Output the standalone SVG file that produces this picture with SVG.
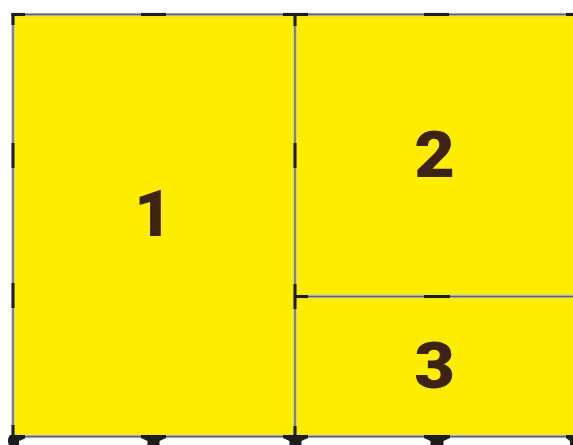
<svg xmlns="http://www.w3.org/2000/svg" width="573" height="445" viewBox="0 0 573 445">
<defs>
<style>
.fill{fill:#FFED00;stroke:none}
.lbl{font-family:Roboto,"Liberation Sans",Arial,sans-serif;font-weight:900;font-size:65px;fill:#3D2314;text-anchor:middle}
.halo{stroke:#C4C4C4;stroke-width:3.4;fill:none}
.line{stroke:#5E5E5E;stroke-width:1.3;fill:none}
.tick{fill:#1D1D1B;stroke:none}
</style>
</defs>
<rect width="573" height="445" fill="#FFFFFF"/>
<g id="panel-1">
<rect class="fill" x="13" y="14.5" width="282" height="422"/>
<text class="lbl" x="153" y="236">1</text>
</g>
<g id="panel-2">
<rect class="fill" x="295" y="14.5" width="278" height="282"/>
<text class="lbl" transform="translate(434.5,177) scale(1.08,1)" x="0" y="0">2</text>
</g>
<g id="panel-3">
<rect class="fill" x="295" y="296.5" width="278" height="140"/>
<text class="lbl" transform="translate(434.5,388) scale(1.08,1)" x="0" y="0">3</text>
</g>
<g id="frame">
<path class="halo" d="M12.5,14.5H573M13,14.5V436.5M295,14.5V436.5M295,296.5H573M12.5,436.5H573"/>
<path class="line" d="M12.5,14.5H573M13,14.5V436.5M295,14.5V436.5M295,296.5H573M12.5,436.5H573"/>
<g id="ticks">
<rect class="tick" x="11.5" y="13" width="13.5" height="3"/>
<rect class="tick" x="11.5" y="13" width="3" height="12"/>
<rect class="tick" x="141" y="13" width="25" height="3"/>
<rect class="tick" x="283" y="13" width="25" height="3"/>
<rect class="tick" x="293.5" y="13" width="3" height="13"/>
<rect class="tick" x="424" y="13" width="25" height="3"/>
<rect class="tick" x="566" y="13" width="7" height="3"/>
<rect class="tick" x="11.5" y="143" width="3" height="25"/>
<rect class="tick" x="11.5" y="283" width="3" height="25"/>
<rect class="tick" x="293.5" y="143" width="3" height="25"/>
<rect class="tick" x="293.5" y="284" width="3" height="25"/>
<rect class="tick" x="296" y="295" width="12" height="3"/>
<rect class="tick" x="424" y="295" width="26" height="3"/>
<rect class="tick" x="11.5" y="425" width="3" height="12"/>
<rect class="tick" x="293.5" y="426" width="3" height="11"/>
<path class="tick" d="M10,435H25V438.5L19,441V445H9Q6.5,440 10,435Z"/>
<path class="tick" d="M141,435H166V438L159.5,441V445H147.5V441L141,438Z"/>
<path class="tick" d="M283,435H308V438L301.5,441V445H289.5V441L283,438Z"/>
<path class="tick" d="M424,435H450V438L443.5,441V445H430.5V441L424,438Z"/>
<path class="tick" d="M566,435H573V445H570V441L566,438Z"/>
</g>
</g>
</svg>
